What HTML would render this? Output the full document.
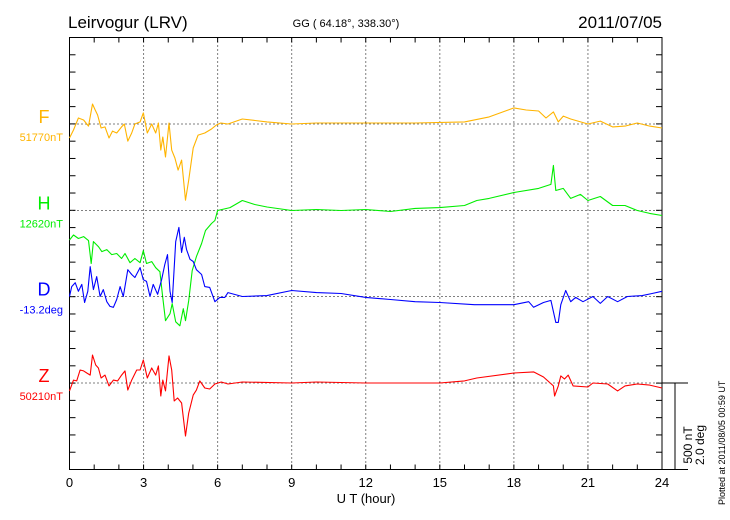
<!DOCTYPE html>
<html><head><meta charset="utf-8"><style>
html,body{margin:0;padding:0;background:#fff;}
svg{display:block;font-family:"Liberation Sans",sans-serif;}
</style></head><body>
<svg id="chart" width="730" height="520" viewBox="0 0 730 520" xmlns="http://www.w3.org/2000/svg">
<text x="68" y="28" font-size="17">Leirvogur (LRV)</text>
<text x="346" y="27" font-size="11" text-anchor="middle">GG ( 64.18°, 338.30°)</text>
<text x="662" y="28" font-size="17" text-anchor="end">2011/07/05</text>
<text x="366" y="503" font-size="13" text-anchor="middle">U T (hour)</text>
<text transform="translate(725,505) rotate(-90)" font-size="9">Plotted at 2011/08/05 00:59 UT</text>
<g font-size="12">
<text transform="translate(692,445) rotate(-90)" text-anchor="middle">500 nT</text>
<text transform="translate(704,445) rotate(-90)" text-anchor="middle">2.0 deg</text>
</g>
<g id="axes"></g>
<g id="series"></g>
</svg>
<script>
const xTicks = [0,3,6,9,12,15,18,21,24];
const seriesNames = ['F','H','D','Z'];
const seriesBaseLabels = ['51770nT','12620nT','-13.2deg','50210nT'];
const fTimes = [0,.16,.36,.57,.77,.93,1.04,1.14,1.28,1.44,1.6,1.74,1.91,2.11,2.22,2.36,2.52,2.65,2.86,2.99,3.15,3.33,3.49,3.6,3.7,3.78,3.89,4.03,4.14,4.27,4.4,4.54,4.7,4.83,5.01,5.21,5.48,5.75,5.95,6.13,6.42,7,8,9,10,12,14,16,17,18,18.5,19,19.3,19.6,19.8,20,20.3,21,21.5,22,22.5,23,23.5,24];
const fValues = [-81,-35,35,23,-12,116,81,52,-23,-17,-81,-41,-52,-17,0,-99,-52,0,12,64,-52,0,-52,6,-151,-75,-191,6,-151,-197,-267,-209,-441,-325,-139,-64,-52,-29,-6,6,0,29,12,0,6,6,6,12,41,93,81,75,35,70,12,46,29,0,17,-17,-12,6,-12,-23];
const hTimes = [0,.16,.36,.57,.77,.88,.97,1.17,1.31,1.51,1.71,1.91,2.11,2.25,2.45,2.65,2.86,2.99,3.12,3.33,3.49,3.66,3.76,3.89,4.07,4.16,4.3,4.47,4.61,4.7,4.83,4.97,5.14,5.35,5.51,5.75,5.89,6,6.5,7,7.5,8,9,10,11,12,13,14,15,16,16.5,17,18,19,19.5,19.6,19.7,20,20.3,20.7,21,21.5,22,22.5,23,23.5,24];
const hValues = [-171,-142,-162,-151,-174,-307,-180,-209,-238,-226,-255,-249,-278,-249,-302,-278,-302,-232,-307,-296,-331,-354,-481,-638,-597,-539,-644,-667,-568,-638,-522,-348,-267,-191,-116,-75,-58,0,17,58,35,20,0,6,0,6,-6,12,17,29,58,70,104,128,151,261,116,128,70,93,58,81,29,29,0,-17,-29];
const dTimes = [0,.09,.23,.36,.5,.61,.74,.84,.97,1.1,1.24,1.37,1.51,1.64,1.78,1.91,2.05,2.18,2.36,2.52,2.65,2.86,2.99,3.12,3.26,3.39,3.57,3.73,3.86,3.97,4.07,4.16,4.3,4.43,4.54,4.65,4.74,4.88,5.01,5.14,5.35,5.48,5.68,5.89,6.09,6.29,6.42,7,8,9,10,11,12,13,14,15,16.4,18,18.6,18.8,19.2,19.5,19.7,19.8,19.9,20.1,20.3,20.5,20.8,21.2,21.5,21.8,22.2,22.6,23.2,23.6,24];
const dValues = [0,.23,.32,.12,.28,-.14,.12,.69,.16,.46,0,.16,-.12,-.23,-.25,-.07,.23,0,.62,.51,.44,.67,.39,.35,0,.28,.05,.39,.74,.97,.12,-.14,1.27,1.6,1.02,1.37,1.09,.86,.81,.62,.51,.23,.21,-.12,-.02,-.02,.09,0,.02,.14,.09,.07,-.02,-.07,-.12,-.14,-.19,-.19,-.12,-.25,-.14,-.09,-.6,-.6,-.19,.14,-.12,-.02,-.12,0,-.16,0,-.12,0,.02,.07,.12];
const zTimes = [0,.16,.29,.43,.57,.7,.84,.93,1.06,1.17,1.28,1.44,1.6,1.78,1.95,2.11,2.25,2.36,2.52,2.72,2.86,2.99,3.15,3.33,3.49,3.6,3.7,3.78,3.89,4.03,4.14,4.24,4.38,4.54,4.7,4.83,5.01,5.14,5.28,5.48,5.68,5.89,6.15,6.42,7,9,10,12,15,16,16.5,18,18.8,19.2,19.6,19.65,19.8,19.9,20.05,20.2,20.4,21,21.2,21.8,22.2,22.5,23,23.5,24];
const zValues = [-46,17,12,75,70,58,46,162,104,87,29,46,-17,17,12,46,70,-41,17,75,75,133,29,87,46,99,-75,17,-46,157,75,-104,-87,-116,-307,-174,-70,-41,12,-29,-35,-6,6,-6,6,0,6,0,0,12,29,58,64,35,-17,-75,-17,41,23,46,-17,-23,0,-6,-46,-17,-6,-12,-29];

const X0=69.5, X1=662, Y0=37.5, Y1=469.5;
const baselines=[124,210.5,296.5,383];
const pxPerNT=86.4/500, pxPerDeg=86.4/2.0;
const colors=['#ffb400','#00ee00','#0000ff','#ff0000'];
const xs=h=>X0+(X1-X0)*h/24;
const NS='http://www.w3.org/2000/svg';
function mk(tag,attrs,parent){const e=document.createElementNS(NS,tag);for(const k in attrs)e.setAttribute(k,attrs[k]);parent.appendChild(e);return e;}
const axes=document.getElementById('axes');
const frame=mk('rect',{x:X0,y:Y0,width:X1-X0,height:Y1-Y0,fill:'none',stroke:'#000','stroke-width':1},axes);


// minor x ticks
for(let h=1;h<24;h++){
  const t1=mk('line',{x1:xs(h),x2:xs(h),y1:Y0,y2:Y0+5,stroke:'#000'},axes);
  
  
  const t2=mk('line',{x1:xs(h),x2:xs(h),y1:Y1,y2:Y1-5,stroke:'#000'},axes);
  
  
}
xTicks.forEach(h=>{
  if(h>0&&h<24){
    const g=mk('line',{x1:xs(h),x2:xs(h),y1:Y0,y2:Y1,stroke:'#000','stroke-dasharray':'1,3'},axes);
    
    
  }
  const t=mk('text',{x:xs(h),y:487,'font-size':13,'text-anchor':'middle'},axes);
  t.textContent=h;
  
  
});
// y ticks
const step=(Y1-Y0)/25;
for(let i=1;i<25;i++){
  const y=Y0+i*step;
  const a=mk('line',{x1:X0,x2:X0+6,y1:y,y2:y,stroke:'#000'},axes);
  
  
  const b=mk('line',{x1:X1,x2:X1-6,y1:y,y2:y,stroke:'#000'},axes);
  
  
}
// scale bar
const sb1=mk('line',{x1:X1,x2:688,y1:383,y2:383,stroke:'#000'},axes);


const sb2=mk('line',{x1:X1,x2:688,y1:Y1,y2:Y1,stroke:'#000'},axes);


const sb3=mk('line',{x1:675,x2:675,y1:383,y2:Y1,stroke:'#000'},axes);



const ser=document.getElementById('series');
const allT=[fTimes,hTimes,dTimes,zTimes], allV=[fValues,hValues,dValues,zValues];
seriesNames.forEach((n,i)=>{
  const b=baselines[i];
  const bl=mk('line',{x1:X0,x2:X1,y1:b,y2:b,stroke:'#000','stroke-dasharray':'1,3'},ser);
  
  
  const lab=mk('text',{x:44,y:b-1,'font-size':18,'text-anchor':'middle',fill:colors[i]},ser);
  lab.textContent=n;
  
  
  const sub=mk('text',{x:63,y:b+17,'font-size':11,'text-anchor':'end',fill:colors[i]},ser);
  sub.textContent=seriesBaseLabels[i];
  
  
  const k=(n==='D')?pxPerDeg:pxPerNT;
  const pts=allT[i].map((t,j)=>xs(t).toFixed(1)+','+(b-allV[i][j]*k).toFixed(1)).join(' ');
  const pl=mk('polyline',{points:pts,fill:'none',stroke:colors[i],'stroke-width':1.1,'stroke-linejoin':'round'},ser);
  
  
});
</script>
</body></html>
